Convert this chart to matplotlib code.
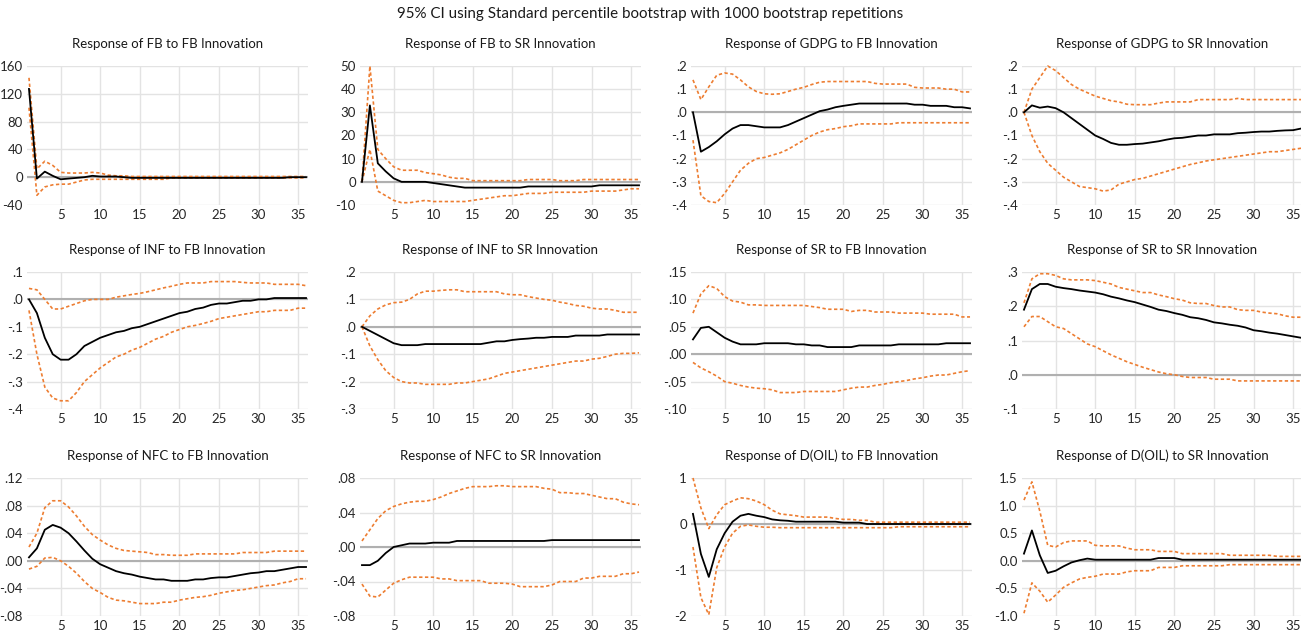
import matplotlib
matplotlib.use("Agg")
import matplotlib.pyplot as plt
import numpy as np

plt.rcParams['font.family'] = ['Lato', 'DejaVu Sans']

periods = list(range(1, 37))

titles = ["Response of FB to FB Innovation", "Response of FB to SR Innovation",
          "Response of GDPG to FB Innovation", "Response of GDPG to SR Innovation",
          "Response of INF to FB Innovation", "Response of INF to SR Innovation",
          "Response of SR to FB Innovation", "Response of SR to SR Innovation",
          "Response of NFC to FB Innovation", "Response of NFC to SR Innovation",
          "Response of D(OIL) to FB Innovation", "Response of D(OIL) to SR Innovation"]

# ---- Panel 1: FB to FB
p1_resp = [127,-2,8,2,-3,-2,-1,0,2,1, 1,1,0,-1,-1,-1,-1,-1,-1,-1, -1,-1,-1,-1,-1,-1,-1,-1,-1,-1, -1,-1,-1,0,0,0]
p1_up = [143,12,23,17,7,6,6,6,7,6, 3,2,2,1,1,1,1,1,1,1, 1,1,1,1,1,1,1,1,1,1, 1,1,1,1,1,1]
p1_lo = [100,-26,-14,-11,-10,-10,-7,-4,-3,-3, -3,-3,-3,-3,-3,-3,-3,-3,-1,-1, -1,-1,-1,-1,-1,-1,-1,-1,-1,-1, -1,-1,-1,-1,-1,-1]
# ---- Panel 2: FB to SR
p2_resp = [0,33,8,4.5,1.5,0,0,0,0,-0.5, -1,-1.5,-2,-2.5,-2.5,-2.5,-2.5,-2.5,-2.5,-2.5, -2.5,-2,-2,-2,-2,-2,-2,-2,-2,-2, -1.5,-1.5,-1.5,-1.5,-1.5,-1.5]
p2_up = [0,50,14,10,6.5,5,5,5,4,3.5, 3,2,1.5,1.5,0.5,0.5,0.5,0.5,0.5,0.5, 0.5,1,1,1,1,0.5,0.5,0.5,1,1, 1,1,1,1,1,1]
p2_lo = [0,14,-4,-6,-8,-9,-9,-8.5,-8,-8.5, -8.5,-8.5,-8.5,-8.5,-8,-7.5,-7,-6.5,-6,-6, -5.5,-5,-5,-5,-4.5,-4.5,-4.5,-4.5,-4.5,-4, -4,-4,-4,-3.5,-3,-3]
# ---- Panel 3: GDPG to FB
p3_resp = [0,-0.17,-0.15,-0.125,-0.095,-0.07,-0.055,-0.055,-0.06,-0.065, -0.065,-0.065,-0.055,-0.04,-0.025,-0.01,0.005,0.012,0.022,0.028, 0.033,0.038,0.038,0.038,0.038,0.038,0.038,0.038,0.033,0.033, 0.028,0.028,0.028,0.022,0.022,0.017]
p3_up = [0.14,0.055,0.11,0.16,0.17,0.165,0.14,0.11,0.09,0.08, 0.078,0.08,0.09,0.1,0.108,0.12,0.13,0.133,0.133,0.133, 0.133,0.133,0.133,0.125,0.122,0.122,0.122,0.122,0.108,0.105, 0.105,0.105,0.1,0.1,0.088,0.088]
p3_lo = [-0.12,-0.36,-0.385,-0.39,-0.35,-0.3,-0.25,-0.22,-0.2,-0.195, -0.185,-0.175,-0.16,-0.14,-0.12,-0.1,-0.085,-0.075,-0.07,-0.062, -0.058,-0.05,-0.05,-0.05,-0.05,-0.05,-0.045,-0.045,-0.045,-0.045, -0.045,-0.045,-0.045,-0.045,-0.045,-0.045]
# ---- Panel 4: GDPG to SR
p4_resp = [0,0.03,0.02,0.025,0.018,0.0,-0.025,-0.05,-0.075,-0.1, -0.115,-0.132,-0.14,-0.14,-0.137,-0.135,-0.13,-0.125,-0.118,-0.112, -0.11,-0.105,-0.1,-0.1,-0.095,-0.095,-0.095,-0.09,-0.088,-0.085, -0.083,-0.083,-0.08,-0.078,-0.077,-0.07]
p4_up = [0.0,0.1,0.15,0.2,0.18,0.15,0.12,0.1,0.085,0.07, 0.06,0.05,0.045,0.035,0.033,0.033,0.033,0.04,0.045,0.045, 0.045,0.045,0.055,0.055,0.055,0.055,0.055,0.06,0.055,0.055, 0.055,0.055,0.055,0.055,0.055,0.055]
p4_lo = [0,-0.1,-0.17,-0.22,-0.25,-0.28,-0.3,-0.32,-0.325,-0.33, -0.34,-0.335,-0.31,-0.3,-0.29,-0.285,-0.275,-0.265,-0.255,-0.245, -0.235,-0.225,-0.218,-0.21,-0.205,-0.2,-0.195,-0.19,-0.185,-0.18, -0.175,-0.17,-0.17,-0.165,-0.16,-0.155]
# ---- Panel 5: INF to FB
p5_resp = [0,-0.05,-0.14,-0.2,-0.22,-0.22,-0.2,-0.17,-0.155,-0.14, -0.13,-0.12,-0.115,-0.105,-0.1,-0.09,-0.08,-0.07,-0.06,-0.05, -0.045,-0.035,-0.03,-0.02,-0.015,-0.015,-0.01,-0.005,-0.005,0, 0,0.005,0.005,0.005,0.005,0.005]
p5_up = [0.04,0.035,0.0,-0.035,-0.035,-0.025,-0.015,-0.005,0.0,0.0, 0.0,0.008,0.013,0.018,0.022,0.028,0.035,0.042,0.048,0.055, 0.06,0.06,0.06,0.065,0.065,0.065,0.065,0.062,0.06,0.06, 0.06,0.055,0.055,0.055,0.055,0.05]
p5_lo = [-0.04,-0.2,-0.32,-0.36,-0.37,-0.37,-0.34,-0.3,-0.275,-0.25, -0.23,-0.21,-0.2,-0.185,-0.175,-0.16,-0.145,-0.135,-0.12,-0.11, -0.1,-0.095,-0.088,-0.08,-0.07,-0.065,-0.06,-0.055,-0.05,-0.045, -0.045,-0.04,-0.04,-0.04,-0.032,-0.032]
# ---- Panel 6: INF to SR
p6_resp = [0,-0.015,-0.03,-0.045,-0.06,-0.067,-0.067,-0.067,-0.063,-0.063, -0.063,-0.063,-0.063,-0.063,-0.063,-0.063,-0.058,-0.053,-0.053,-0.048, -0.045,-0.043,-0.04,-0.04,-0.037,-0.037,-0.037,-0.032,-0.032,-0.032, -0.032,-0.028,-0.028,-0.028,-0.028,-0.028]
p6_up = [0,0.04,0.065,0.08,0.088,0.09,0.1,0.12,0.13,0.13, 0.133,0.135,0.135,0.128,0.128,0.128,0.128,0.128,0.12,0.117, 0.117,0.11,0.105,0.1,0.097,0.09,0.085,0.078,0.075,0.068, 0.065,0.065,0.06,0.053,0.053,0.053]
p6_lo = [0,-0.07,-0.12,-0.16,-0.185,-0.2,-0.205,-0.205,-0.21,-0.21, -0.21,-0.21,-0.205,-0.205,-0.2,-0.195,-0.19,-0.18,-0.17,-0.165, -0.16,-0.155,-0.15,-0.145,-0.14,-0.135,-0.13,-0.125,-0.125,-0.118, -0.115,-0.108,-0.1,-0.097,-0.097,-0.095]
# ---- Panel 7: SR to FB
p7_resp = [0.027,0.048,0.05,0.04,0.03,0.023,0.018,0.018,0.018,0.02, 0.02,0.02,0.02,0.018,0.018,0.016,0.016,0.013,0.013,0.013, 0.013,0.016,0.016,0.016,0.016,0.016,0.018,0.018,0.018,0.018, 0.018,0.018,0.02,0.02,0.02,0.02]
p7_up = [0.075,0.11,0.125,0.12,0.105,0.097,0.095,0.09,0.09,0.089, 0.089,0.089,0.089,0.089,0.089,0.087,0.085,0.082,0.082,0.082, 0.078,0.08,0.08,0.077,0.077,0.077,0.075,0.075,0.075,0.075, 0.073,0.073,0.073,0.073,0.068,0.068]
p7_lo = [-0.015,-0.025,-0.032,-0.04,-0.05,-0.053,-0.057,-0.06,-0.062,-0.063, -0.065,-0.07,-0.07,-0.07,-0.068,-0.068,-0.068,-0.068,-0.068,-0.065, -0.062,-0.06,-0.06,-0.057,-0.055,-0.052,-0.05,-0.048,-0.045,-0.043, -0.04,-0.038,-0.038,-0.035,-0.032,-0.03]
# ---- Panel 8: SR to SR
p8_resp = [0.19,0.25,0.265,0.265,0.257,0.253,0.25,0.246,0.243,0.24, 0.235,0.228,0.223,0.217,0.212,0.205,0.198,0.19,0.186,0.18, 0.175,0.168,0.165,0.16,0.153,0.15,0.146,0.143,0.138,0.13, 0.127,0.123,0.12,0.116,0.112,0.108]
p8_up = [0.21,0.28,0.295,0.295,0.29,0.28,0.277,0.277,0.277,0.275, 0.27,0.265,0.255,0.25,0.245,0.24,0.24,0.233,0.228,0.222, 0.218,0.21,0.208,0.208,0.202,0.198,0.198,0.19,0.188,0.188, 0.183,0.18,0.178,0.172,0.168,0.168]
p8_lo = [0.14,0.17,0.17,0.155,0.14,0.135,0.12,0.105,0.09,0.082, 0.07,0.058,0.048,0.038,0.03,0.022,0.015,0.008,0.003,0.0, -0.005,-0.008,-0.008,-0.008,-0.013,-0.013,-0.013,-0.018,-0.018,-0.018, -0.018,-0.018,-0.018,-0.018,-0.018,-0.018]
# ---- Panel 9: NFC to FB
p9_resp = [0.005,0.018,0.045,0.052,0.048,0.04,0.028,0.015,0.003,-0.005, -0.01,-0.015,-0.018,-0.02,-0.023,-0.025,-0.027,-0.027,-0.029,-0.029, -0.029,-0.027,-0.027,-0.025,-0.024,-0.024,-0.022,-0.02,-0.018,-0.017, -0.015,-0.015,-0.013,-0.011,-0.009,-0.009]
p9_up = [0.02,0.04,0.077,0.087,0.087,0.078,0.065,0.05,0.038,0.03, 0.023,0.018,0.015,0.014,0.013,0.012,0.009,0.009,0.008,0.008, 0.008,0.01,0.01,0.01,0.01,0.01,0.01,0.012,0.012,0.012, 0.012,0.014,0.014,0.014,0.014,0.014]
p9_lo = [-0.012,-0.008,0.004,0.005,0.0,-0.008,-0.018,-0.03,-0.04,-0.046, -0.053,-0.057,-0.058,-0.06,-0.062,-0.062,-0.062,-0.06,-0.06,-0.057, -0.055,-0.053,-0.052,-0.05,-0.047,-0.045,-0.043,-0.042,-0.04,-0.038, -0.036,-0.035,-0.032,-0.03,-0.026,-0.026]
# ---- Panel 10: NFC to SR
p10_resp = [-0.021,-0.021,-0.016,-0.007,0.0,0.002,0.004,0.004,0.004,0.005, 0.005,0.005,0.007,0.007,0.007,0.007,0.007,0.007,0.007,0.007, 0.007,0.007,0.007,0.007,0.008,0.008,0.008,0.008,0.008,0.008, 0.008,0.008,0.008,0.008,0.008,0.008]
p10_up = [0.007,0.02,0.033,0.042,0.047,0.05,0.052,0.053,0.053,0.055, 0.058,0.062,0.065,0.068,0.07,0.07,0.07,0.071,0.071,0.07, 0.07,0.07,0.07,0.068,0.067,0.063,0.063,0.062,0.062,0.06, 0.058,0.056,0.056,0.052,0.05,0.049]
p10_lo = [-0.043,-0.057,-0.058,-0.05,-0.042,-0.038,-0.035,-0.035,-0.035,-0.035, -0.037,-0.037,-0.039,-0.039,-0.039,-0.039,-0.042,-0.042,-0.042,-0.043, -0.046,-0.046,-0.046,-0.046,-0.044,-0.04,-0.04,-0.04,-0.036,-0.036, -0.034,-0.034,-0.034,-0.031,-0.031,-0.029]
# ---- Panel 11: D(OIL) to FB
p11_resp = [0.22,-0.65,-1.15,-0.55,-0.2,0.05,0.18,0.22,0.18,0.15, 0.1,0.08,0.07,0.05,0.05,0.05,0.05,0.05,0.05,0.03, 0.03,0.03,0,0,0,0,0,0,0,0, 0,0,0,0,0,0]
p11_up = [1.0,0.35,-0.1,0.2,0.42,0.5,0.57,0.55,0.5,0.42, 0.3,0.22,0.2,0.18,0.15,0.15,0.15,0.15,0.12,0.1, 0.1,0.08,0.08,0.04,0.04,0.04,0.04,0.04,0.04,0.04, 0.04,0.04,0.04,0.04,0.04,0.04]
p11_lo = [-0.5,-1.6,-1.97,-0.95,-0.5,-0.2,-0.05,-0.02,-0.05,-0.07, -0.07,-0.08,-0.08,-0.08,-0.08,-0.08,-0.08,-0.08,-0.08,-0.08, -0.08,-0.08,-0.08,-0.08,-0.08,-0.08,-0.06,-0.06,-0.06,-0.06, -0.06,-0.06,-0.06,-0.06,-0.06,-0.06]
# ---- Panel 12: D(OIL) to SR
p12_resp = [0.13,0.55,0.1,-0.22,-0.18,-0.1,-0.03,0.01,0.04,0.02, 0.02,0.02,0.02,0.02,0.02,0.02,0.02,0.05,0.05,0.05, 0.02,0.02,0.02,0.02,0.02,0.02,0.02,0.02,0.02,0.02, 0.02,0.02,0.02,0.02,0.02,0.02]
p12_up = [1.1,1.43,0.9,0.28,0.25,0.33,0.36,0.36,0.36,0.28, 0.27,0.27,0.27,0.23,0.2,0.2,0.2,0.17,0.17,0.17, 0.13,0.13,0.13,0.13,0.13,0.13,0.1,0.1,0.1,0.1, 0.1,0.1,0.08,0.08,0.08,0.08]
p12_lo = [-0.95,-0.4,-0.55,-0.75,-0.62,-0.48,-0.4,-0.33,-0.3,-0.28, -0.24,-0.24,-0.24,-0.2,-0.18,-0.18,-0.18,-0.12,-0.12,-0.12, -0.09,-0.09,-0.09,-0.09,-0.09,-0.09,-0.07,-0.07,-0.07,-0.07, -0.07,-0.07,-0.07,-0.07,-0.07,-0.07]

responses = [p1_resp, p2_resp, p3_resp, p4_resp, p5_resp, p6_resp,
             p7_resp, p8_resp, p9_resp, p10_resp, p11_resp, p12_resp]
uppers = [p1_up, p2_up, p3_up, p4_up, p5_up, p6_up,
          p7_up, p8_up, p9_up, p10_up, p11_up, p12_up]
lowers = [p1_lo, p2_lo, p3_lo, p4_lo, p5_lo, p6_lo,
          p7_lo, p8_lo, p9_lo, p10_lo, p11_lo, p12_lo]

y_ticks = [[-40, 0, 40, 80, 120, 160],
           [-10, 0, 10, 20, 30, 40, 50],
           [-0.4, -0.3, -0.2, -0.1, 0.0, 0.1, 0.2],
           [-0.4, -0.3, -0.2, -0.1, 0.0, 0.1, 0.2],
           [-0.4, -0.3, -0.2, -0.1, 0.0, 0.1],
           [-0.3, -0.2, -0.1, 0.0, 0.1, 0.2],
           [-0.10, -0.05, 0.00, 0.05, 0.10, 0.15],
           [-0.1, 0.0, 0.1, 0.2, 0.3],
           [-0.08, -0.04, 0.00, 0.04, 0.08, 0.12],
           [-0.08, -0.04, 0.00, 0.04, 0.08],
           [-2, -1, 0, 1],
           [-1.0, -0.5, 0.0, 0.5, 1.0, 1.5]]
y_ticklabels = [["-40", "0", "40", "80", "120", "160"],
                ["-10", "0", "10", "20", "30", "40", "50"],
                ["-.4", "-.3", "-.2", "-.1", ".0", ".1", ".2"],
                ["-.4", "-.3", "-.2", "-.1", ".0", ".1", ".2"],
                ["-.4", "-.3", "-.2", "-.1", ".0", ".1"],
                ["-.3", "-.2", "-.1", ".0", ".1", ".2"],
                ["-.10", "-.05", ".00", ".05", ".10", ".15"],
                ["-.1", ".0", ".1", ".2", ".3"],
                ["-.08", "-.04", ".00", ".04", ".08", ".12"],
                ["-.08", "-.04", ".00", ".04", ".08"],
                ["-2", "-1", "0", "1"],
                ["-1.0", "-0.5", "0.0", "0.5", "1.0", "1.5"]]
x_ticks = [5, 10, 15, 20, 25, 30, 35]

W, H = 1301, 632
fig = plt.figure(figsize=(W / 100, H / 100), dpi=100)
fig.patch.set_facecolor("white")

lefts_px = [27, 360, 691, 1022]
tops_px = [66, 272, 478]
bottoms_px = [205, 409, 616]
width_px = 281

orange = "#ED7D31"

for i in range(12):
    r, c = divmod(i, 4)
    ax = fig.add_axes([lefts_px[c] / W, 1 - bottoms_px[r] / H,
                       width_px / W, (bottoms_px[r] - tops_px[r]) / H])
    ax.set_xlim(0.75, 36.25)
    yt = y_ticks[i]
    ax.set_ylim(yt[0], yt[-1])
    for s in ax.spines.values():
        s.set_visible(False)
    ax.set_yticks(yt)
    ax.set_yticklabels(y_ticklabels[i])
    ax.set_xticks(x_ticks)
    ax.set_xticklabels([str(v) for v in x_ticks])
    ax.tick_params(length=0, labelsize=9.5, colors="#262626", pad=3)
    ax.grid(True, color="#e3e3e3", linewidth=1.0)
    ax.set_axisbelow(True)
    ax.axhline(0, color="#b0b0b0", linewidth=1.5, zorder=1)
    ax.plot(periods, uppers[i], color=orange, linewidth=1.2,
            linestyle=(0, (2.0, 1.5)), zorder=2, clip_on=False)
    ax.plot(periods, lowers[i], color=orange, linewidth=1.2,
            linestyle=(0, (2.0, 1.5)), zorder=2, clip_on=False)
    ax.plot(periods, responses[i], color="black", linewidth=1.3, zorder=3,
            clip_on=False)
    ax.set_title(titles[i], fontsize=9.5, color="#1a1a1a", pad=13)

fig.text(0.5, 1 - 14 / H, "95% CI using Standard percentile bootstrap with 1000 bootstrap repetitions",
         ha="center", va="center", fontsize=10.9, color="#1a1a1a")

fig.savefig("out.png", dpi=100, facecolor="white")
